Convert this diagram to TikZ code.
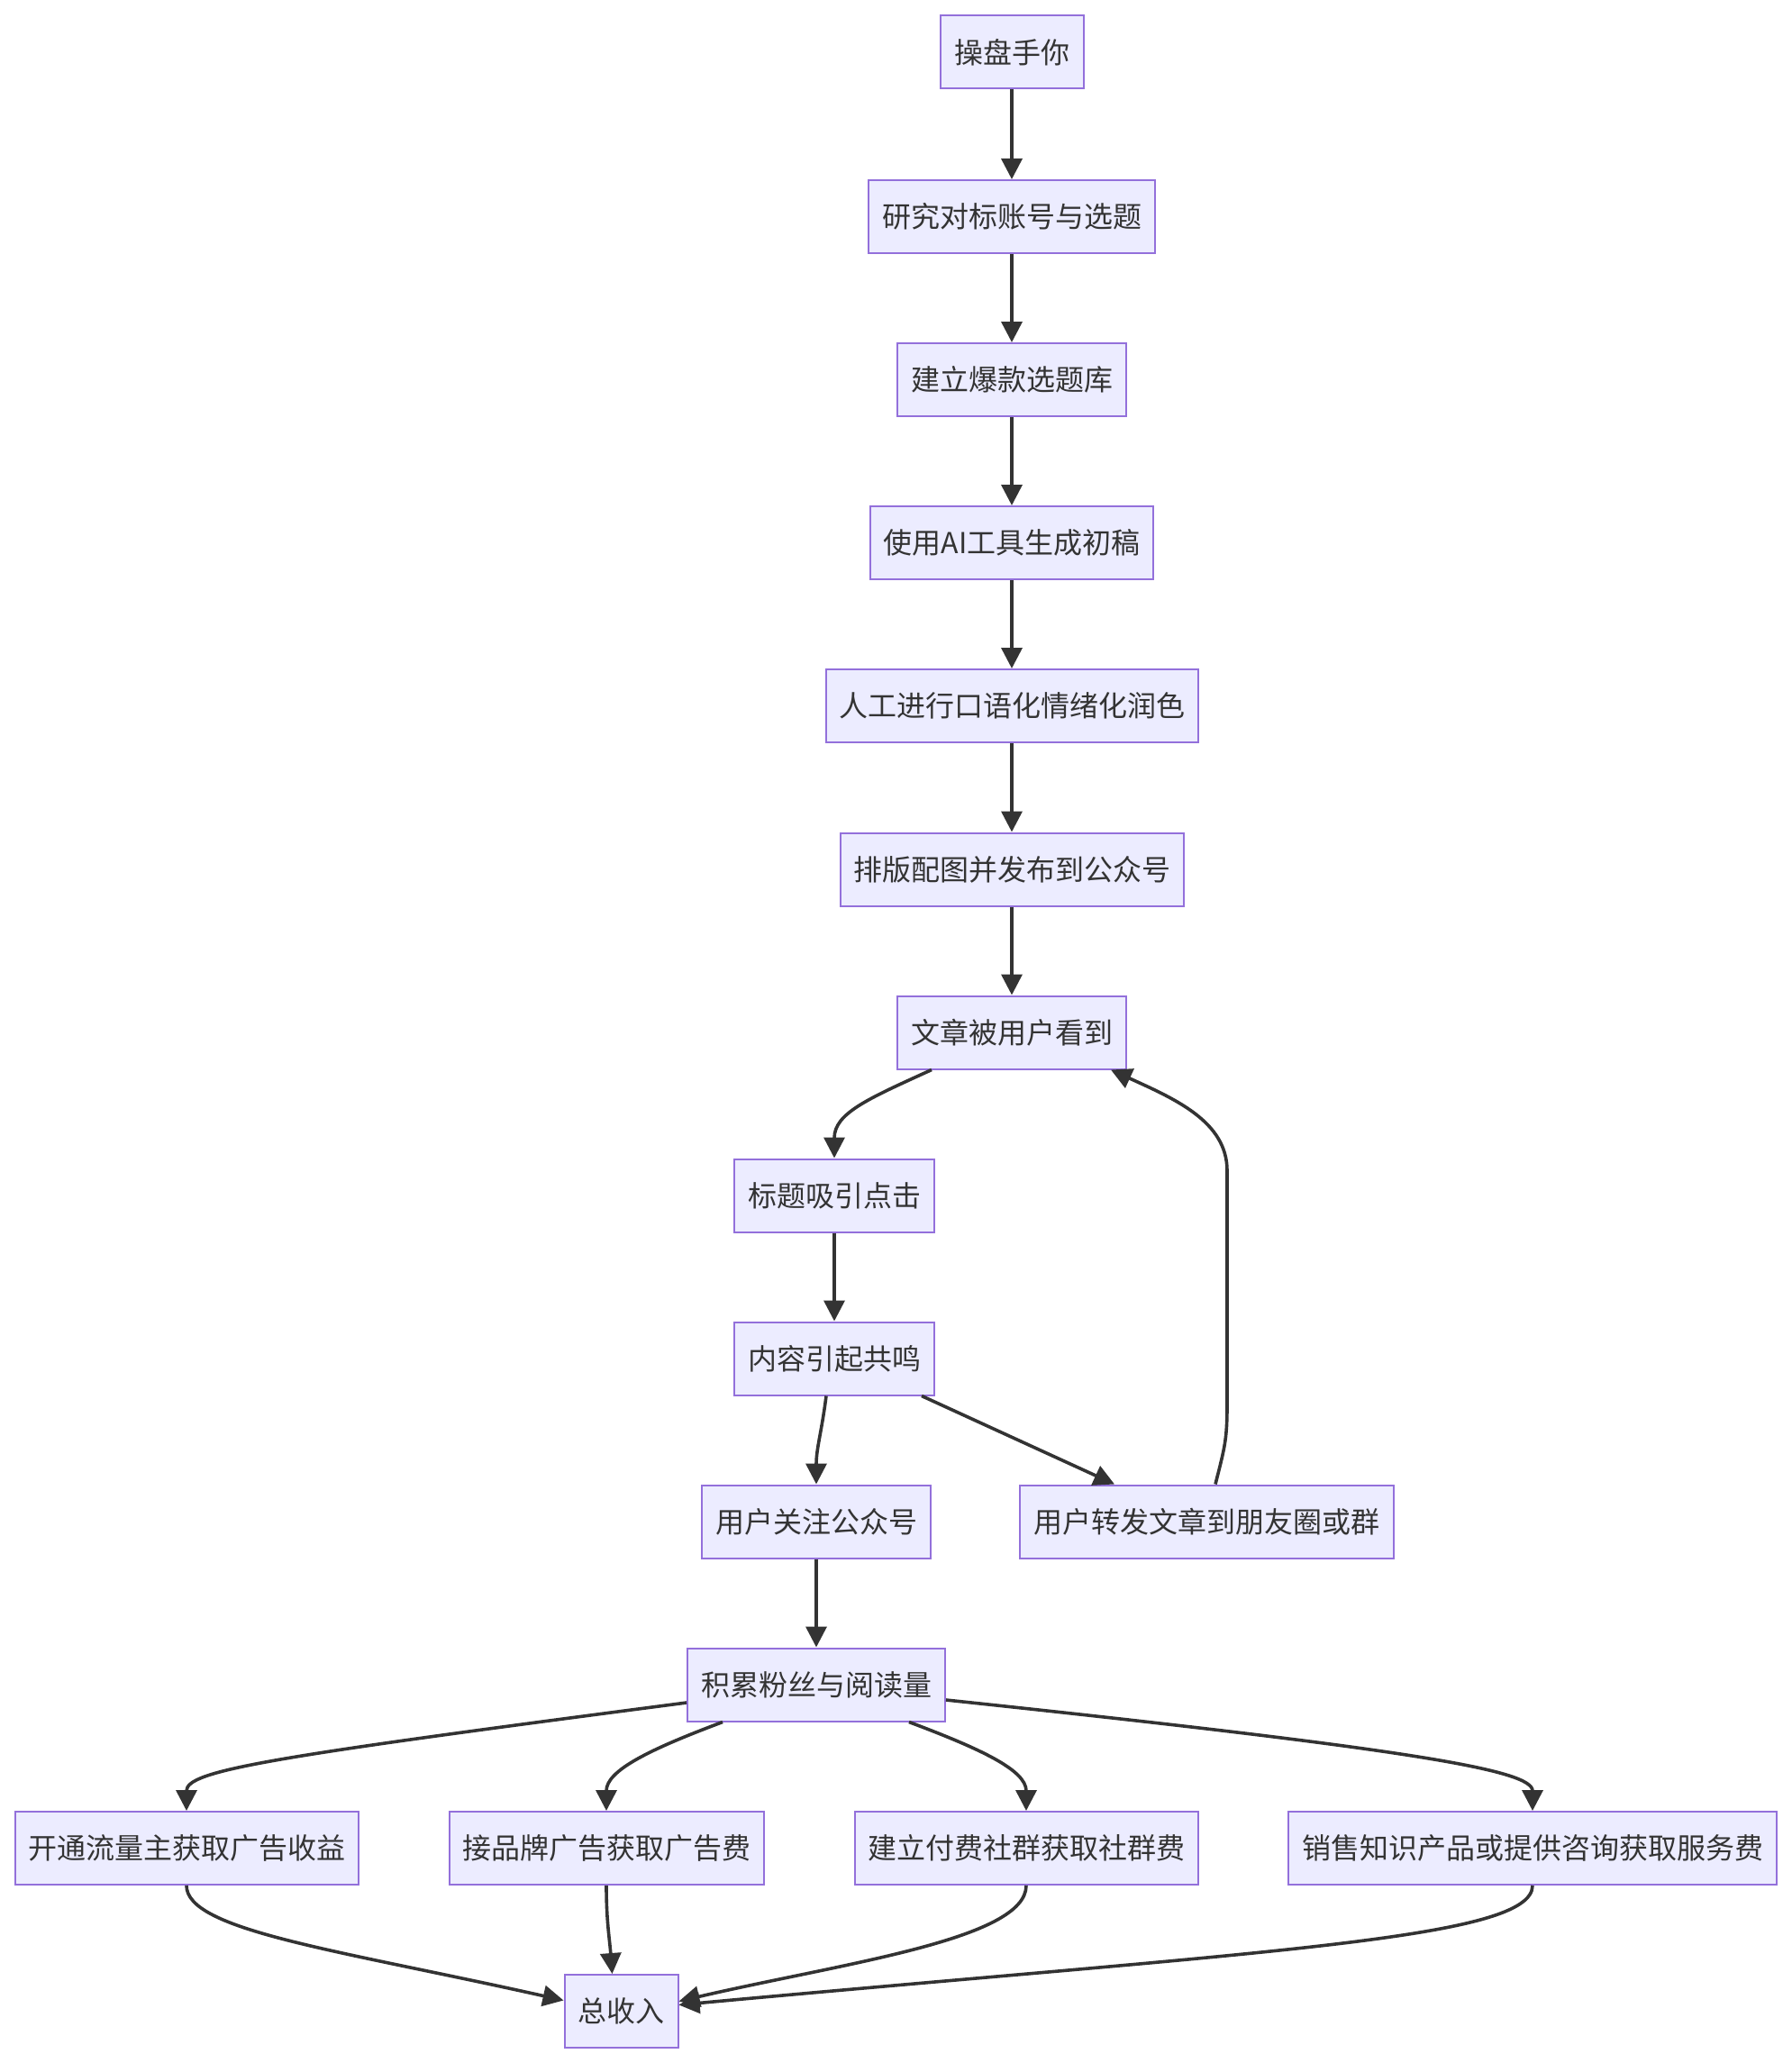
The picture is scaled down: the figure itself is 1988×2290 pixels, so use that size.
\documentclass[tikz,border=0pt]{standalone}
\usepackage{fontspec}
\newfontfamily\cjk{Noto Sans CJK SC}
\usetikzlibrary{arrows.meta,calc}
\definecolor{boxfill}{HTML}{ECECFF}
\definecolor{boxdraw}{HTML}{9370DB}
\definecolor{txtcol}{HTML}{333333}
\definecolor{linecol}{HTML}{333333}
\tikzset{
  box/.style={draw=boxdraw, fill=boxfill, line width=2pt, minimum height=81pt,
    inner sep=0pt, text=txtcol, font=\cjk\fontsize{32}{36}\selectfont},
  conn/.style={draw=linecol, line width=3.6pt, -{Triangle[length=23pt,width=23pt]}}
}
\begin{document}
\begin{tikzpicture}[x=1pt,y=-1pt]
\useasboundingbox[fill=white] (0,0) rectangle (1988,2290);
\node[box, minimum width=159pt] (n1) at (1123,58) {操盘手你};
\node[box, minimum width=318pt] (n2) at (1123,240.5) {研究对标账号与选题};
\node[box, minimum width=254pt] (n3) at (1123,421.5) {建立爆款选题库};
\node[box, minimum width=314pt] (n4) at (1123,602.5) {使用AI工具生成初稿};
\node[box, minimum width=413pt] (n5) at (1123,783.5) {人工进行口语化情绪化润色};
\node[box, minimum width=381pt] (n6) at (1123,965) {排版配图并发布到公众号};
\node[box, minimum width=254pt] (n7) at (1123,1146) {文章被用户看到};
\node[box, minimum width=222pt] (n8) at (926,1327) {标题吸引点击};
\node[box, minimum width=222pt] (n9) at (926,1508) {内容引起共鸣};
\node[box, minimum width=254pt] (n10) at (906,1689) {用户关注公众号};
\node[box, minimum width=415pt] (n11) at (1339.5,1689) {用户转发文章到朋友圈或群};
\node[box, minimum width=286pt] (n12) at (906,1870) {积累粉丝与阅读量};
\node[box, minimum width=381pt] (n13) at (207,2051.5) {开通流量主获取广告收益};
\node[box, minimum width=349pt] (n14) at (673,2051.5) {接品牌广告获取广告费};
\node[box, minimum width=381pt] (n15) at (1139,2051.5) {建立付费社群获取社群费};
\node[box, minimum width=542pt] (n16) at (1701,2051.5) {销售知识产品或提供咨询获取服务费};
\node[box, minimum width=126pt] (n17) at (689.5,2232.5) {总收入};

\draw[conn] (n1) -- (n2);
\draw[conn] (n2) -- (n3);
\draw[conn] (n3) -- (n4);
\draw[conn] (n4) -- (n5);
\draw[conn] (n5) -- (n6);
\draw[conn] (n6) -- (n7);
\draw[conn] ($(n7.south)+(-89,0)$) .. controls +(-70,32) and +(0,-50) .. (n8.north);
\draw[conn] (n8) -- (n9);
\draw[conn] ($(n9.south)+(-9,0)$) .. controls +(-5,40) and +(0,-40) .. (n10.north);
\draw[conn] ($(n9.south)+(97,0)$) -- ($(n11.north)+(-102.5,0)$);
\draw[conn] ($(n11.north)+(9.5,0)$) .. controls +(10,-40) and +(0,40) .. ($(n11.north)+(22.5,-88)$)
  -- ($(n11.north)+(22.5,-348)$) .. controls +(0,-55) and +(70,32) .. ($(n7.south)+(110,0)$);
\draw[conn] (n10) -- (n12);
\draw[conn] ($(n12.west)+(0,20)$) .. controls +(-460,60) and +(0,-45) .. (n13.north);
\draw[conn] ($(n12.south)+(-104,0)$) .. controls +(-80,30) and +(0,-45) .. (n14.north);
\draw[conn] ($(n12.south)+(103,0)$) .. controls +(80,30) and +(0,-45) .. (n15.north);
\draw[conn] ($(n12.east)+(0,17)$) .. controls +(520,55) and +(0,-45) .. (n16.north);
\draw[conn] (n13.south) .. controls +(0,50) and +(-250,-56) .. ($(n17.west)+(0,-12)$);
\draw[conn] (n14.south) .. controls +(0,40) and +(-3,-40) .. ($(n17.north)+(-10,0)$);
\draw[conn] (n15.south) .. controls +(0,60) and +(180,-42) .. ($(n17.east)+(0,-11)$);
\draw[conn] (n16.south) .. controls +(0,60) and +(650,-60) .. ($(n17.east)+(0,-7)$);
\end{tikzpicture}
\end{document}
